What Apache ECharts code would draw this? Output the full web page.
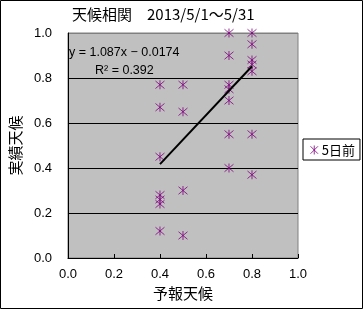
<!DOCTYPE html>
<html><head><meta charset="utf-8">
<script src="https://cdn.jsdelivr.net/npm/echarts@6/dist/echarts.min.js"></script>
<style>html,body{margin:0;padding:0;background:#fff}#c{width:364px;height:310px}</style>
</head><body><div id="c"></div>
<script>
const titleText = '天候相関　2013/5/1～5/31';
const xName = '予報天候';
const yName = '実績天候';
const seriesName = '5日前';
const xTicks = [0, 0.2, 0.4, 0.6, 0.8, 1.0];
const yTicks = [0, 0.2, 0.4, 0.6, 0.8, 1.0];
const forecast = [0.4,0.4,0.4,0.4,0.4,0.4,0.4, 0.5,0.5,0.5,0.5, 0.7,0.7,0.7,0.7,0.7,0.7,0.7, 0.8,0.8,0.8,0.8,0.8,0.8,0.8];
const actual   = [0.77,0.67,0.45,0.28,0.26,0.24,0.12, 0.77,0.65,0.30,0.10, 1.0,0.90,0.77,0.75,0.70,0.55,0.40, 1.0,0.95,0.88,0.86,0.83,0.55,0.37];
// trendline endpoints
const trendX = [0.4, 0.8];
const trendY = [0.417, 0.852];
const eqText = 'y = 1.087x − 0.0174';
const r2Text = 'R² = 0.392';

const star = 'path://M0,0L10,10M10,0L0,10M5,-1L5,11';
const font = '"Liberation Sans","Noto Sans CJK JP",sans-serif';
const chart = echarts.init(document.getElementById('c'));
chart.setOption({
  animation: false,
  textStyle: {fontFamily: font, color: '#000'},
  grid: {left: 64, right: 66, top: 33, bottom: 52, show: true, backgroundColor: '#c0c0c0', borderColor: '#808080', borderWidth: 1},
  xAxis: {
    type: 'value', min: 0, max: 1, interval: 0.2,
    name: xName, nameLocation: 'middle', nameGap: 28,
    nameTextStyle: {fontSize: 15, fontFamily: '"Noto Sans CJK JP",sans-serif', color: '#000'},
    axisLine: {show: true, lineStyle: {color: '#000', width: 1}},
    axisTick: {show: true, inside: true, length: 4, lineStyle: {color: '#000'}},
    axisLabel: {fontSize: 13, color: '#000', margin: 10, formatter: v => v.toFixed(1)},
    splitLine: {show: false}
  },
  yAxis: {
    type: 'value', min: 0, max: 1, interval: 0.2,
    name: yName, nameLocation: 'middle', nameGap: 42,
    nameTextStyle: {fontSize: 15, fontFamily: '"Noto Sans CJK JP",sans-serif', color: '#000'},
    axisLine: {show: true, lineStyle: {color: '#000', width: 1}},
    axisTick: {show: false},
    axisLabel: {fontSize: 13, color: '#000', margin: 16, formatter: v => v.toFixed(1)},
    splitLine: {show: true, lineStyle: {color: ['#000','#000','#000','#000','#000','#808080'], width: 1}}
  },
  legend: {
    left: 303, top: 139, orient: 'vertical',
    borderColor: '#000', borderWidth: 1, padding: [4, 5, 3, 5],
    itemWidth: 9, itemHeight: 9, itemGap: 4,
    textStyle: {fontSize: 13, fontFamily: '"Noto Sans CJK JP",sans-serif', color: '#000', padding: [0,0,0,-2]},
    data: [{name: seriesName, icon: star, itemStyle: {color: 'none', borderColor: '#800080', borderWidth: 1}}]
  },
  graphic: [
    {type: 'rect', shape: {x: 0.5, y: 0.5, width: 362, height: 308}, style: {fill: 'none', stroke: '#000', lineWidth: 1}, z: 100},
    {type: 'text', left: 72, top: 7, style: {text: titleText, font: '15px "Noto Sans CJK JP",sans-serif', fill: '#000'}},
    {type: 'text', left: 69, top: 46, style: {text: eqText, font: '12.5px "Liberation Sans",sans-serif', fill: '#000'}, z: 50},
    {type: 'text', left: 95, top: 64, style: {text: r2Text, font: '12.5px "Liberation Sans",sans-serif', fill: '#000'}, z: 50}
  ],
  series: [
    {
      name: seriesName, type: 'scatter',
      data: forecast.map((x, i) => [x, actual[i]]),
      symbol: star, symbolSize: 9,
      itemStyle: {color: 'none', borderColor: '#800080', borderWidth: 1},
      z: 3
    },
    {
      name: 'trend', type: 'line',
      data: trendX.map((x, i) => [x, trendY[i]]),
      symbol: 'none', lineStyle: {color: '#000', width: 2}, z: 4
    }
  ]
});
</script></body></html>
